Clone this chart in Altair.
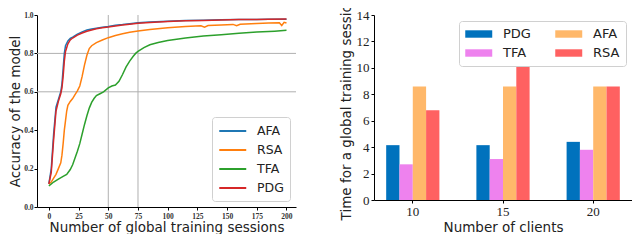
import altair as alt
import pandas as pd

# ---------------- Left chart data (accuracy curves) ----------------
afa_x = [0, 2, 4, 6, 8, 10, 11, 12, 13, 14, 16, 18, 20, 24, 28, 32, 36, 40, 45, 50, 56, 62, 68, 75, 85, 100, 115, 130, 145, 160, 175, 185, 200]
afa_y = [0.12, 0.20, 0.38, 0.52, 0.56, 0.60, 0.64, 0.72, 0.80, 0.84, 0.865, 0.878, 0.885, 0.90, 0.912, 0.922, 0.927, 0.931, 0.936, 0.940, 0.946, 0.950, 0.955, 0.960, 0.964, 0.968, 0.971, 0.973, 0.975, 0.976, 0.977, 0.978, 0.978]

rsa_x = [0, 2, 4, 6, 8, 10, 11, 12, 13, 14, 15, 16, 18, 20, 22, 24, 26, 28, 30, 32, 34, 36, 40, 45, 50, 56, 62, 68, 75, 85, 100, 115, 128, 131, 134, 145, 155, 158, 161, 175, 185, 194, 196, 198, 200]
rsa_y = [0.12, 0.13, 0.15, 0.17, 0.20, 0.23, 0.27, 0.33, 0.40, 0.45, 0.50, 0.53, 0.55, 0.565, 0.585, 0.605, 0.63, 0.68, 0.74, 0.79, 0.825, 0.84, 0.856, 0.87, 0.882, 0.893, 0.902, 0.910, 0.917, 0.925, 0.933, 0.940, 0.944, 0.937, 0.945, 0.948, 0.951, 0.944, 0.952, 0.956, 0.958, 0.960, 0.945, 0.962, 0.958]

tfa_x = [0, 4, 8, 12, 15, 18, 20, 22, 24, 26, 28, 30, 32, 34, 36, 38, 40, 43, 46, 50, 53, 56, 59, 62, 65, 68, 71, 73, 75, 80, 85, 92, 100, 115, 130, 145, 160, 175, 190, 200]
tfa_y = [0.11, 0.13, 0.145, 0.16, 0.17, 0.195, 0.22, 0.255, 0.29, 0.33, 0.38, 0.43, 0.475, 0.515, 0.545, 0.565, 0.58, 0.59, 0.60, 0.62, 0.63, 0.635, 0.655, 0.69, 0.73, 0.76, 0.785, 0.80, 0.81, 0.83, 0.845, 0.857, 0.867, 0.88, 0.89, 0.897, 0.905, 0.911, 0.916, 0.92]

pdg_x = [0, 2, 4, 6, 8, 10, 11, 12, 13, 14, 16, 18, 20, 24, 28, 32, 36, 40, 45, 50, 56, 62, 68, 75, 85, 100, 115, 130, 145, 160, 175, 185, 200]
pdg_y = [0.12, 0.18, 0.35, 0.50, 0.55, 0.59, 0.62, 0.68, 0.76, 0.81, 0.85, 0.87, 0.88, 0.895, 0.906, 0.915, 0.922, 0.928, 0.933, 0.937, 0.943, 0.948, 0.952, 0.957, 0.961, 0.966, 0.970, 0.972, 0.974, 0.976, 0.977, 0.978, 0.979]

line_order = ["AFA", "RSA", "TFA", "PDG"]
line_colors = ["#1f77b4", "#ff7f0e", "#2ca02c", "#d62728"]
x_ticks = [0, 25, 50, 75, 100, 125, 150, 175, 200]
y_ticks = [0.0, 0.2, 0.4, 0.6, 0.8, 1.0]
grid_x = [50, 75]
grid_y = [0.6, 0.8]

# ---------------- Right chart data (bars) ----------------
clients = ["10", "15", "20"]
pdg_time = [4.15, 4.15, 4.4]
tfa_time = [2.7, 3.1, 3.8]
afa_time = [8.58, 8.58, 8.58]
rsa_time = [6.8, 10.55, 8.58]
bar_order = ["PDG", "TFA", "AFA", "RSA"]
bar_colors = ["#0072bd", "#ee82ee", "#ffb86a", "#ff6161"]
time_ticks = [0, 2, 4, 6, 8, 10, 12, 14]

# ---------------- Build tables ----------------
rows = []
for name, xs, ys in [("AFA", afa_x, afa_y), ("RSA", rsa_x, rsa_y), ("TFA", tfa_x, tfa_y), ("PDG", pdg_x, pdg_y)]:
    for i, (xv, yv) in enumerate(zip(xs, ys)):
        rows.append({"session": xv, "accuracy": yv, "method": name, "idx": i})
df_lines = pd.DataFrame(rows)

brows = []
for name, vals in [("PDG", pdg_time), ("TFA", tfa_time), ("AFA", afa_time), ("RSA", rsa_time)]:
    for c, v in zip(clients, vals):
        brows.append({"client": c, "method": name, "value": v})
df_bars = pd.DataFrame(brows)

SANS = "DejaVu Sans"
SERIF = "Liberation Serif"
TITLE_SIZE = 13.5

x_scale = alt.Scale(domain=[-10, 208], nice=False, zero=False)
y_scale = alt.Scale(domain=[0, 1], nice=False)

x_axis = alt.Axis(values=x_ticks, title="Number of global training sessions",
                  labelFont=SERIF, labelFontSize=7.5, labelFontWeight="bold",
                  labelColor="#333", labelPadding=2, tickSize=3, labelOverlap=False,
                  titleFont=SANS, titleFontSize=TITLE_SIZE, titleFontWeight="normal",
                  titlePadding=1, titleColor="#222")
y_axis = alt.Axis(values=y_ticks, format=".1f", title="Accuracy of the model",
                  labelFont=SERIF, labelFontSize=7.5, labelFontWeight="bold",
                  labelColor="#333", labelPadding=1, tickSize=3, labelOverlap=False,
                  titleFont=SANS, titleFontSize=TITLE_SIZE, titleFontWeight="normal",
                  titlePadding=1, titleColor="#222")

gx = alt.Chart(pd.DataFrame({"v": grid_x})).mark_rule(color="#b0b0b0", strokeWidth=1).encode(
    x=alt.X("v:Q", scale=x_scale, axis=x_axis)
)
gy = alt.Chart(pd.DataFrame({"v": grid_y})).mark_rule(color="#b0b0b0", strokeWidth=1).encode(
    y=alt.Y("v:Q", scale=y_scale, axis=y_axis)
)

lines = alt.Chart(df_lines).mark_line(strokeWidth=1.5).encode(
    x=alt.X("session:Q", scale=x_scale, axis=x_axis),
    y=alt.Y("accuracy:Q", scale=y_scale, axis=y_axis),
    color=alt.Color("method:N", scale=alt.Scale(domain=line_order, range=line_colors),
                    legend=alt.Legend(title=None, orient="bottom-right", offset=6,
                                      symbolType="M-1,0L3,0", symbolSize=182, symbolStrokeWidth=2,
                                      labelFont=SANS, labelFontSize=12.5, labelColor="#222",
                                      labelOffset=23, rowPadding=4,
                                      fillColor="white", strokeColor="#d0d0d0",
                                      cornerRadius=3, padding=6)),
    order=alt.Order("idx:Q"),
)

left = alt.layer(gx, gy, lines).properties(width=259, height=192)

bars = alt.Chart(df_bars).mark_bar().encode(
    x=alt.X("client:N", scale=alt.Scale(paddingInner=0.41, paddingOuter=0.135),
            axis=alt.Axis(labelAngle=0, title="Number of clients",
                          labelFont=SERIF, labelFontSize=13, labelColor="#222",
                          labelPadding=2, tickSize=3,
                          titleFont=SANS, titleFontSize=TITLE_SIZE, titleFontWeight="normal",
                          titlePadding=2, titleColor="#222")),
    xOffset=alt.XOffset("method:N", sort=bar_order,
                        scale=alt.Scale(domain=bar_order, paddingInner=0, paddingOuter=0)),
    y=alt.Y("value:Q", scale=alt.Scale(domain=[0, 14], nice=False),
            axis=alt.Axis(values=time_ticks, title="Time for a global training session",
                          labelFont=SERIF, labelFontSize=13, labelColor="#222",
                          labelPadding=2, tickSize=3, labelOverlap=False,
                          titleFont=SANS, titleFontSize=TITLE_SIZE, titleFontWeight="normal",
                          titlePadding=3, titleColor="#222")),
    color=alt.Color("method:N", scale=alt.Scale(domain=bar_order, range=bar_colors),
                    legend=alt.Legend(title=None, orient="top-right", offset=6, columns=2,
                                      symbolType="M-1,-0.55L3,-0.55L3,0.55L-1,0.55Z",
                                      symbolSize=182, symbolStrokeWidth=0, symbolOpacity=1,
                                      labelFont=SANS, labelFontSize=13, labelColor="#222",
                                      labelOffset=24, columnPadding=24, rowPadding=5,
                                      fillColor="white", strokeColor="#d0d0d0",
                                      cornerRadius=3, padding=6)),
)

right = bars.properties(width=258, height=185)

chart = alt.hconcat(left, right, spacing=42).properties(
    padding={"left": 0, "top": -13, "right": 0, "bottom": 0}
).configure_view(strokeOpacity=0).configure_axis(
    domainColor="black", tickColor="black", grid=False, domainWidth=1
).resolve_scale(color="independent")

chart.save("out.html", embed_options={"renderer": "svg", "actions": False})
